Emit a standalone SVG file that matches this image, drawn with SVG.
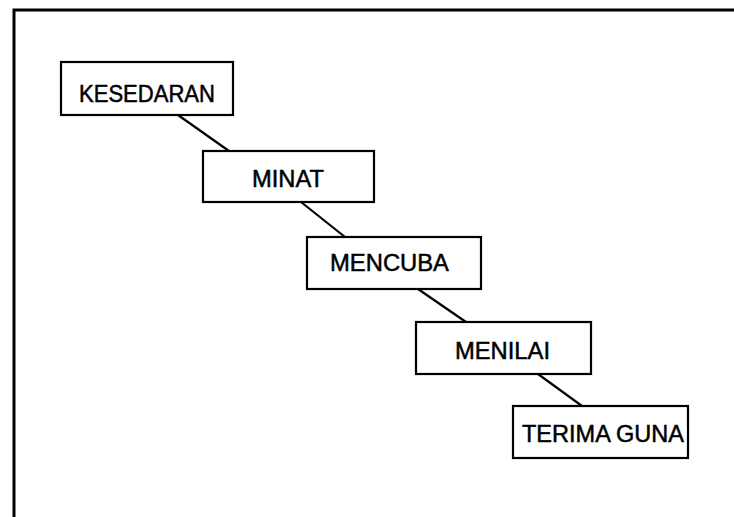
<svg xmlns="http://www.w3.org/2000/svg" width="734" height="517" viewBox="0 0 734 517">
<style>
.box{fill:#fff;stroke:#000;stroke-width:2.2}
.lbl{font-family:"Liberation Sans",Arial,sans-serif;font-size:24px;fill:#000;stroke:#000;stroke-width:0.5;text-anchor:middle}
.con{stroke:#000;stroke-width:2.2;fill:none}
</style>
<rect width="734" height="517" fill="#fff"/>
<path d="M14,517 V10 H734" fill="none" stroke="#000" stroke-width="3"/>
<g id="connectors">
<line class="con" x1="178" y1="115" x2="229" y2="151"/>
<line class="con" x1="301" y1="202" x2="345" y2="237"/>
<line class="con" x1="418" y1="289" x2="466" y2="322"/>
<line class="con" x1="538" y1="374" x2="582" y2="406"/>
</g>
<g id="kesedaran">
<rect class="box" x="61" y="62" width="172" height="53"/>
<text class="lbl" x="147" y="102" textLength="136" lengthAdjust="spacingAndGlyphs">KESEDARAN</text>
</g>
<g id="minat">
<rect class="box" x="203" y="151" width="171" height="51"/>
<text class="lbl" x="288" y="187" textLength="72" lengthAdjust="spacingAndGlyphs">MINAT</text>
</g>
<g id="mencuba">
<rect class="box" x="307" y="237" width="174" height="52"/>
<text class="lbl" x="389.5" y="271" textLength="119" lengthAdjust="spacingAndGlyphs">MENCUBA</text>
</g>
<g id="menilai">
<rect class="box" x="416" y="322" width="175" height="52"/>
<text class="lbl" x="502.5" y="359" textLength="95" lengthAdjust="spacingAndGlyphs">MENILAI</text>
</g>
<g id="terima-guna">
<rect class="box" x="513" y="406" width="175" height="52"/>
<text class="lbl" x="603" y="442" textLength="162" lengthAdjust="spacingAndGlyphs">TERIMA GUNA</text>
</g>
</svg>
